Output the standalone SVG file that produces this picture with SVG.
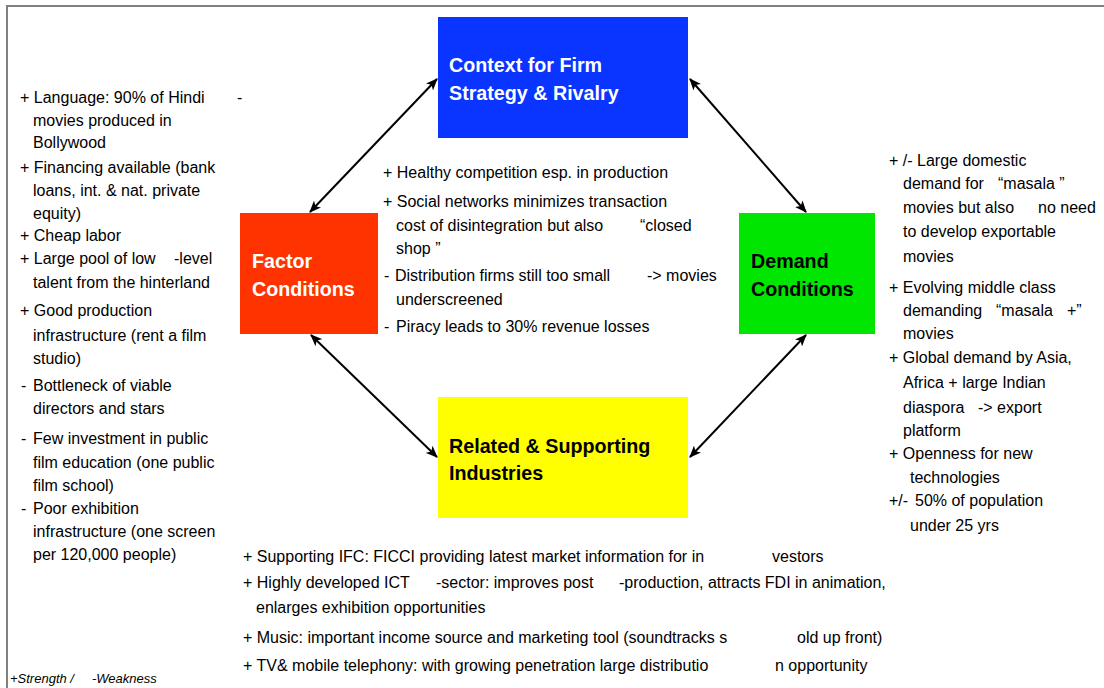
<svg xmlns="http://www.w3.org/2000/svg" width="1104" height="688" viewBox="0 0 1104 688">
<style>
.t{font-family:"Liberation Sans",Arial,sans-serif;font-size:16px;fill:#000}
.h{font-family:"Liberation Sans",Arial,sans-serif;font-size:19.7px;font-weight:bold}
.w{fill:#fff}
.k{fill:#000}
.f{font-family:"Liberation Sans",Arial,sans-serif;font-size:13px;font-style:italic;fill:#000}
.c{stroke:#000;stroke-width:2;fill:none;marker-start:url(#a);marker-end:url(#a)}
</style>
<defs>
<marker id="a" viewBox="0 0 12 10" refX="11" refY="5" markerWidth="12" markerHeight="10" markerUnits="userSpaceOnUse" orient="auto-start-reverse">
<path d="M0,0 L12,5 L0,10 L3,5 Z" fill="#000"/>
</marker>
</defs>
<rect width="1104" height="688" fill="#fff"/>
<path d="M7,688 V6 H1104" stroke="#808080" stroke-width="2" fill="none"/>
<g id="connectors">
<line class="c" x1="310" y1="212" x2="437" y2="79"/>
<line class="c" x1="690" y1="79" x2="806" y2="212"/>
<line class="c" x1="311" y1="335" x2="437" y2="457"/>
<line class="c" x1="806" y1="335" x2="690" y2="457"/>
</g>
<g id="context">
<rect x="438" y="17" width="250" height="121" fill="#0a34ff"/>
<text class="h w" x="449" y="72">Context for Firm</text>
<text class="h w" x="449" y="100">Strategy &amp; Rivalry</text>
</g>
<g id="factor">
<rect x="240" y="213" width="138" height="121" fill="#ff3300"/>
<text class="h w" x="252" y="268">Factor</text>
<text class="h w" x="252" y="296">Conditions</text>
</g>
<g id="demand">
<rect x="739" y="213" width="136" height="121" fill="#00e600"/>
<text class="h k" x="751" y="268">Demand</text>
<text class="h k" x="751" y="296">Conditions</text>
</g>
<g id="related">
<rect x="438" y="397" width="250" height="121" fill="#ffff00"/>
<text class="h k" x="449" y="453">Related &amp; Supporting</text>
<text class="h k" x="449" y="480">Industries</text>
</g>
<g id="factor-notes" class="t">
<text x="20" y="103">+ Language: 90% of Hindi<tspan x="237">-</tspan></text>
<text x="33" y="126">movies produced in</text>
<text x="33" y="148">Bollywood</text>
<text x="20" y="173">+ Financing available (bank</text>
<text x="33" y="196">loans, int. &amp; nat. private</text>
<text x="33" y="219">equity)</text>
<text x="20" y="241">+ Cheap labor</text>
<text x="20" y="264">+ Large pool of low<tspan x="174">-level</tspan></text>
<text x="33" y="288">talent from the hinterland</text>
<text x="20" y="316">+ Good production</text>
<text x="33" y="341">infrastructure (rent a film</text>
<text x="33" y="364">studio)</text>
<text x="21" y="391">-</text><text x="33" y="391">Bottleneck of viable</text>
<text x="33" y="414">directors and stars</text>
<text x="21" y="444">-</text><text x="33" y="444">Few investment in public</text>
<text x="33" y="468">film education (one public</text>
<text x="33" y="491">film school)</text>
<text x="21" y="514">-</text><text x="33" y="514">Poor exhibition</text>
<text x="33" y="537">infrastructure (one screen</text>
<text x="33" y="560">per 120,000 people)</text>
</g>
<g id="context-notes" class="t">
<text x="383" y="178">+ Healthy competition esp. in production</text>
<text x="383" y="207">+ Social networks minimizes transaction</text>
<text x="396" y="231">cost of disintegration but also<tspan x="640">“closed</tspan></text>
<text x="396" y="254">shop ”</text>
<text x="384" y="281">-</text><text x="395" y="281">Distribution firms still too small<tspan x="647">-&gt; movies</tspan></text>
<text x="396" y="305">underscreened</text>
<text x="384" y="332">-</text><text x="396" y="332">Piracy leads to 30% revenue losses</text>
</g>
<g id="demand-notes" class="t">
<text x="889" y="166">+ /- Large domestic</text>
<text x="903" y="189">demand for<tspan x="998">“masala ”</tspan></text>
<text x="903" y="213">movies but also<tspan x="1038">no need</tspan></text>
<text x="903" y="237">to develop exportable</text>
<text x="903" y="262">movies</text>
<text x="889" y="293">+ Evolving middle class</text>
<text x="903" y="316">demanding<tspan x="996">“masala</tspan><tspan x="1067">+”</tspan></text>
<text x="903" y="339">movies</text>
<text x="889" y="363">+ Global demand by Asia,</text>
<text x="903" y="388">Africa + large Indian</text>
<text x="903" y="413">diaspora<tspan x="978">-&gt; export</tspan></text>
<text x="903" y="436">platform</text>
<text x="889" y="459">+ Openness for new</text>
<text x="910" y="483">technologies</text>
<text x="889" y="506">+/-<tspan x="915">50% of population</tspan></text>
<text x="910" y="531">under 25 yrs</text>
</g>
<g id="related-notes" class="t">
<text x="243" y="562">+ Supporting IFC: FICCI providing latest market information for in<tspan x="772">vestors</tspan></text>
<text x="243" y="588">+ Highly developed ICT<tspan x="436">-sector: improves post</tspan><tspan x="619">-production, attracts FDI in animation,</tspan></text>
<text x="256" y="613">enlarges exhibition opportunities</text>
<text x="243" y="643">+ Music: important income source and marketing tool (soundtracks s<tspan x="797">old up front)</tspan></text>
<text x="243" y="671">+ TV&amp; mobile telephony: with growing penetration large distributio<tspan x="775">n opportunity</tspan></text>
</g>
<g id="legend">
<text class="f" x="10" y="683">+Strength /<tspan x="92">-Weakness</tspan></text>
</g>
</svg>
